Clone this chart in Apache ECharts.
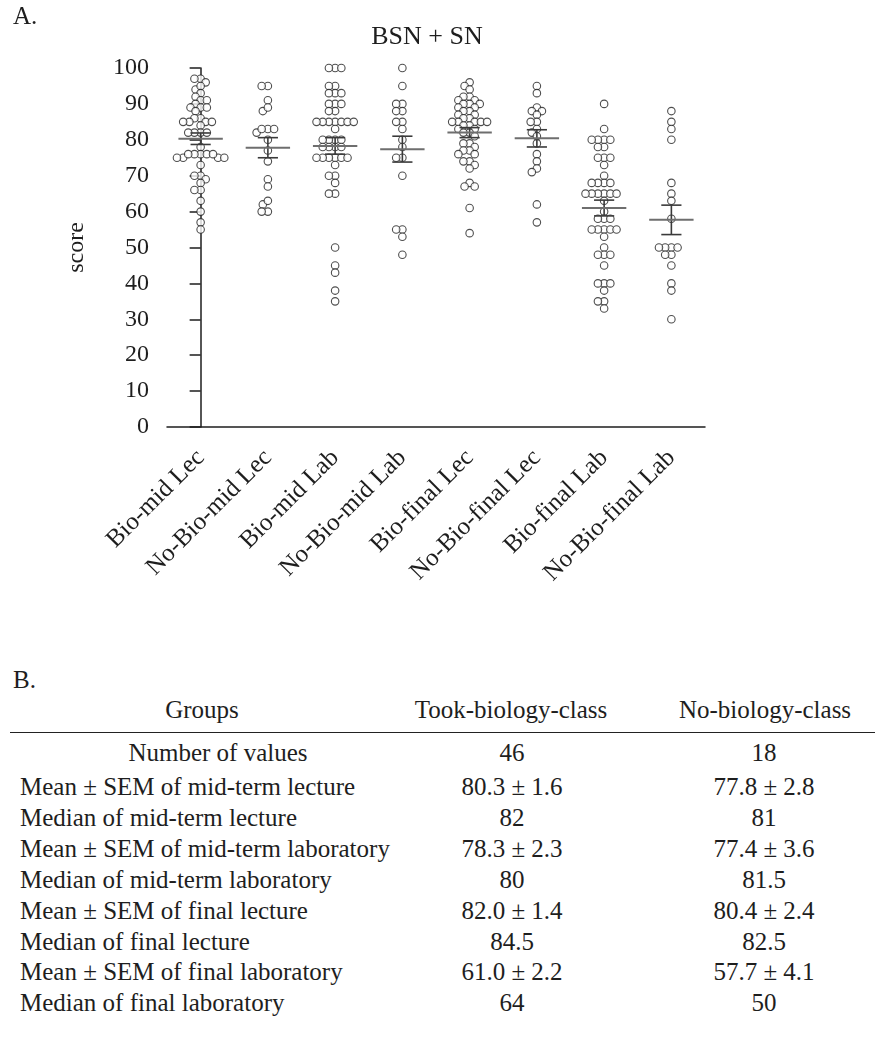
<!DOCTYPE html>
<html>
<head>
<meta charset="utf-8">
<script src="https://cdn.jsdelivr.net/npm/echarts@6/dist/echarts.min.js"></script>
<style>
body{margin:0;background:#fff;font-family:'Liberation Serif','Times New Roman',serif;color:#1e1e1e;}
#page{position:relative;width:875px;height:1048px;overflow:hidden;}
#chart{position:absolute;left:0;top:0;width:875px;height:640px;}
#tbl{position:absolute;left:0;top:640px;width:875px;height:408px;}
.t{position:absolute;font-size:25px;line-height:30px;white-space:nowrap;}
.c{transform:translateX(-50%);}
.rule{position:absolute;left:10px;right:0;top:92px;border-top:1.5px solid #222;}
</style>
</head>
<body>
<div id="page">
  <div id="chart"></div>
  <div id="tbl"></div>
</div>
<script>
// ---- data ----
var categories = ['Bio-mid Lec', 'No-Bio-mid Lec', 'Bio-mid Lab', 'No-Bio-mid Lab',
                  'Bio-final Lec', 'No-Bio-final Lec', 'Bio-final Lab', 'No-Bio-final Lab'];

var bioMidLec = [97, 96, 94, 95, 97, 93, 92, 91, 90, 91, 89, 89, 89, 88, 86, 86, 85, 85, 85, 85,
                 84, 82, 82, 82, 82, 78, 76, 76, 76, 75, 75, 75, 75, 76, 76, 73, 70, 70, 69, 68,
                 66, 66, 63, 60, 57, 55];
var noBioMidLec = [95, 95, 91, 88, 89, 83, 82, 83, 83, 80, 77, 74, 69, 67, 62, 63, 60, 60];
var bioMidLab = [100, 100, 100, 95, 95, 93, 93, 93, 90, 90, 90, 88, 88, 85, 85, 85, 85, 85, 85, 85,
                 83, 80, 80, 80, 80, 78, 78, 78, 78, 75, 75, 75, 75, 75, 75, 73, 70, 70, 68, 65,
                 65, 50, 45, 43, 38, 35];
var noBioMidLab = [100, 95, 90, 90, 88, 88, 85, 85, 83, 80, 78, 75, 75, 70, 55, 55, 53, 48];
var bioFinalLec = [96, 95, 94, 92, 92, 91, 91, 90, 90, 90, 89, 89, 88, 88, 87, 87, 86, 86, 85, 85,
                   85, 85, 85, 84, 84, 83, 83, 82, 82, 81, 79, 79, 78, 77, 77, 76, 76, 74, 74, 73,
                   72, 68, 67, 67, 61, 54];
var noBioFinalLec = [95, 93, 89, 88, 88, 87, 85, 85, 83, 82, 81, 79, 76, 74, 72, 71, 62, 57];
var bioFinalLab = [90, 83, 80, 80, 80, 80, 78, 78, 75, 75, 75, 73, 70, 68, 68, 68, 68, 65, 65, 65,
                   65, 65, 65, 63, 60, 58, 58, 58, 55, 55, 55, 55, 55, 53, 50, 48, 48, 48, 45, 40,
                   40, 40, 38, 35, 35, 33];
var noBioFinalLab = [88, 85, 83, 80, 68, 65, 63, 58, 50, 50, 50, 50, 48, 48, 45, 40, 38, 30];

var groupScores = [bioMidLec, noBioMidLec, bioMidLab, noBioMidLab,
                   bioFinalLec, noBioFinalLec, bioFinalLab, noBioFinalLab];
var means = [80.3, 77.8, 78.3, 77.4, 82.0, 80.4, 61.0, 57.7];
var sems  = [1.6, 2.8, 2.3, 3.6, 1.4, 2.4, 2.2, 4.1];

// table (panel B)
var colHeads = ['Groups', 'Took-biology-class', 'No-biology-class'];
var rowLabels = ['Number of values', 'Mean \u00b1 SEM of mid-term lecture', 'Median of mid-term lecture',
                 'Mean \u00b1 SEM of mid-term laboratory', 'Median of mid-term laboratory',
                 'Mean \u00b1 SEM of final lecture', 'Median of final lecture',
                 'Mean \u00b1 SEM of final laboratory', 'Median of final laboratory'];
var tookCol = ['46', '80.3 \u00b1 1.6', '82', '78.3 \u00b1 2.3', '80', '82.0 \u00b1 1.4', '84.5', '61.0 \u00b1 2.2', '64'];
var noCol   = ['18', '77.8 \u00b1 2.8', '81', '77.4 \u00b1 3.6', '81.5', '80.4 \u00b1 2.4', '82.5', '57.7 \u00b1 4.1', '50'];

// ---- chart ----
var FONT = "'Liberation Serif', 'Times New Roman', serif";
var INK = '#1e1e1e';
var grid = {left: 167, right: 170, top: 68, bottom: 213};
var chartW = 875, chartH = 640;
var pxPerX = (chartW - grid.left - grid.right) / categories.length;
var pxPerY = (chartH - grid.top - grid.bottom) / 100;

// simple beeswarm: nudge each dot sideways until it no longer overlaps the ones already placed
function swarm(values, d) {
  var order = values.map(function (v, i) { return i; })
    .sort(function (a, b) { return values[b] - values[a]; });
  var placed = [], off = [];
  order.forEach(function (i) {
    var y = values[i] * pxPerY;
    var blocked = [];
    placed.forEach(function (p) {
      var dy = Math.abs(p.y - y);
      if (dy < d) {
        var w = Math.sqrt(d * d - dy * dy);
        blocked.push([p.x - w, p.x + w]);
      }
    });
    var cands = [0];
    blocked.forEach(function (b) { cands.push(b[0], b[1]); });
    cands.sort(function (a, b) { return Math.abs(a) - Math.abs(b) || a - b; });
    var x = 0;
    for (var k = 0; k < cands.length; k++) {
      var c = cands[k];
      var ok = blocked.every(function (b) { return c <= b[0] + 1e-6 || c >= b[1] - 1e-6; });
      if (ok) { x = c; break; }
    }
    placed.push({x: x, y: y});
    off[i] = x / pxPerX;
  });
  return off;
}

var dots = [];
groupScores.forEach(function (vals, g) {
  var off = swarm(vals, 6.2);
  vals.forEach(function (v, i) { dots.push([g + off[i], v]); });
});
var meanData = means.map(function (m, g) { return [g, m, sems[g]]; });

var chart = echarts.init(document.getElementById('chart'));
chart.setOption({
  animation: false,
  backgroundColor: '#fff',
  title: {
    text: 'BSN + SN', left: 422, top: 19, textAlign: 'center',
    textStyle: {fontFamily: FONT, fontSize: 26, fontWeight: 'normal', color: INK}
  },
  graphic: [{
    type: 'text', left: 13, top: 5,
    style: {text: 'A.', font: '25px ' + FONT, fill: INK}
  }],
  grid: grid,
  xAxis: [{
    type: 'category', data: categories, boundaryGap: true,
    axisLine: {lineStyle: {color: INK, width: 1.5}},
    axisTick: {alignWithLabel: true, length: 12, lineStyle: {color: INK, width: 1.5}},
    axisLabel: {rotate: 45, margin: 27, interval: 0, fontFamily: FONT, fontSize: 25, color: INK},
    splitLine: {show: false}
  }, {
    type: 'value', min: -0.5, max: 7.5, show: false
  }],
  yAxis: {
    type: 'value', min: 0, max: 100, interval: 10,
    name: 'score', nameLocation: 'middle', nameGap: 78,
    nameTextStyle: {fontFamily: FONT, fontSize: 24, color: INK},
    axisLine: {show: true, lineStyle: {color: INK, width: 1.5}},
    axisTick: {show: true, length: 11, lineStyle: {color: INK, width: 1.5}},
    axisLabel: {margin: 18, fontFamily: FONT, fontSize: 24, color: INK},
    splitLine: {show: false}
  },
  series: [{
    type: 'scatter', xAxisIndex: 1, data: dots,
    symbol: 'circle', symbolSize: 7.5,
    itemStyle: {color: '#fff', borderColor: '#222', borderWidth: 1.1},
    z: 2
  }, {
    type: 'custom', xAxisIndex: 1, data: meanData, z: 5,
    renderItem: function (params, api) {
      var g = api.value(0), m = api.value(1), s = api.value(2);
      var c = api.coord([g, m]);
      var hi = api.coord([g, m + s]);
      var lo = api.coord([g, m - s]);
      var bw = api.size([1, 0])[0];
      var mw = bw * 0.33, cw = bw * 0.15;
      var sem = {stroke: '#3a3a3a', lineWidth: 1.6};
      return {
        type: 'group',
        children: [
          {type: 'line', shape: {x1: c[0], y1: hi[1], x2: c[0], y2: lo[1]}, style: sem},
          {type: 'line', shape: {x1: c[0] - cw, y1: hi[1], x2: c[0] + cw, y2: hi[1]}, style: sem},
          {type: 'line', shape: {x1: c[0] - cw, y1: lo[1], x2: c[0] + cw, y2: lo[1]}, style: sem},
          {type: 'line', shape: {x1: c[0] - mw, y1: c[1], x2: c[0] + mw, y2: c[1]},
           style: {stroke: '#6e6e6e', lineWidth: 2}}
        ]
      };
    }
  }]
});

// ---- table (panel B) ----
var tbl = document.getElementById('tbl');
function put(text, x, cy, centered) {
  var el = document.createElement('div');
  el.className = 't' + (centered ? ' c' : '');
  el.style.left = x + 'px';
  el.style.top = (cy - 15) + 'px';
  el.textContent = text;
  tbl.appendChild(el);
}
put('B.', 13, 40, false);
put(colHeads[0], 202, 70, true);
put(colHeads[1], 511, 70, true);
put(colHeads[2], 765, 70, true);
var rule = document.createElement('div');
rule.className = 'rule';
tbl.appendChild(rule);
rowLabels.forEach(function (lab, i) {
  var cy = i === 0 ? 113 : 147 + (i - 1) * 30.9;
  if (i === 0) put(lab, 218, cy, true); else put(lab, 20, cy, false);
  put(tookCol[i], 512, cy, true);
  put(noCol[i], 764, cy, true);
});
</script>
</body>
</html>
